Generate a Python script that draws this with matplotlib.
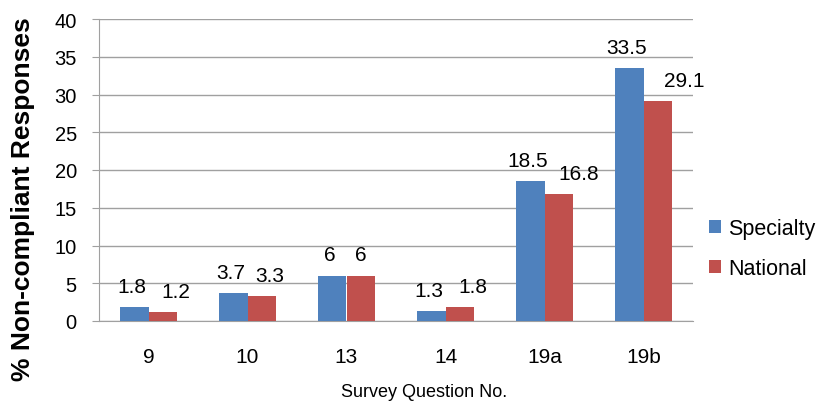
import matplotlib as mpl
mpl.use('Agg')
import matplotlib.pyplot as plt
import numpy as np

plt.rcParams['font.family'] = ['Liberation Sans', 'DejaVu Sans']

# survey results ###############################

questions = ['9', '10', '13', '14', '19a', '19b']
specialty = [1.8, 3.7, 6, 1.3, 18.5, 33.5]
national = [1.2, 3.3, 6, 1.8, 16.8, 29.1]

# sideways nudges (points) for the National labels so they don't collide
nat_nudge = [9, 6, 0, 9.5, 14, 19]

blue = '#4F81BD'
red = '#C0504D'
grid_c = '#A0A0A0'

fig = plt.figure(figsize=(8.17, 4.02), dpi=100)
ax = fig.add_axes([99/817, 80/402, 594/817, 302/402])

x = np.arange(len(questions))
w = 0.29
b1 = ax.bar(x - w/2, specialty, w, color=blue, label='Specialty', zorder=3)
b2 = ax.bar(x + w/2, national, w, color=red, label='National', zorder=3)

for rect, v in zip(b1, specialty):
    ax.annotate('%g' % v, (rect.get_x() + rect.get_width()/2, v),
                xytext=(-1.5, 15), textcoords='offset points',
                ha='center', va='center', fontsize=15)
for rect, v, dx in zip(b2, national, nat_nudge):
    ax.annotate('%g' % v, (rect.get_x() + rect.get_width()/2, v),
                xytext=(dx, 15), textcoords='offset points',
                ha='center', va='center', fontsize=15)

ax.set_xlim(-0.5, len(questions) - 0.5)
ax.set_ylim(0, 40)
ax.set_yticks(range(0, 41, 5))
ax.set_xticks(x)
ax.set_xticklabels(questions)
ax.yaxis.grid(True, color=grid_c, linewidth=1, zorder=0)
ax.set_axisbelow(True)

for s in ['top', 'right']:
    ax.spines[s].set_visible(False)
ax.spines['left'].set_color(grid_c)
ax.spines['bottom'].set_color(grid_c)
ax.tick_params(axis='y', length=5, color=grid_c, labelsize=14.5, pad=11)
ax.tick_params(axis='x', length=0, labelsize=15, pad=19)

ax.set_ylabel('% Non-compliant Responses', fontsize=19, fontweight='bold', va='center')
ax.yaxis.set_label_coords(-0.128, 0.407)
ax.set_xlabel('Survey Question No.', fontsize=13, va='center')
ax.xaxis.set_label_coords(0.547, -0.232)

ax.legend(loc='center left', bbox_to_anchor=(1.005, 0.24), frameon=False,
          fontsize=15.5, handlelength=0.55, handleheight=0.55,
          handletextpad=0.35, labelspacing=0.85, borderaxespad=0.2)

plt.savefig('out.png', dpi=100)
